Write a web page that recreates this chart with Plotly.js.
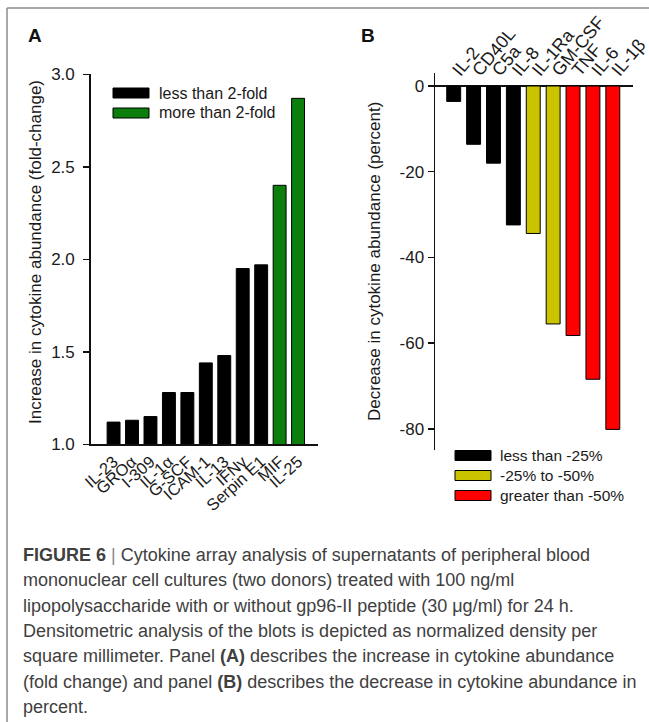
<!DOCTYPE html>
<html>
<head>
<meta charset="utf-8">
<script src="https://cdn.plot.ly/plotly-3.0.1.min.js"></script>
<style>html,body{margin:0;padding:0;background:#fff;}#chart{width:649px;height:722px;}</style>
</head>
<body>
<div id="chart"></div>
<script>
// Panel A: increase in cytokine abundance (fold-change)
const categoriesA = ["IL-23", "GROα", "I-309", "IL-1α", "G-SCF", "ICAM-1", "IL-13", "IFNγ", "Serpin E1", "MIF", "IL-25"];
const valuesA = [1.12, 1.13, 1.15, 1.28, 1.28, 1.44, 1.48, 1.95, 1.97, 2.40, 2.87];
const groupA = [0, 0, 0, 0, 0, 0, 0, 0, 0, 1, 1];
const legendA = ["less than 2-fold", "more than 2-fold"];
const ticksA = [1.0, 1.5, 2.0, 2.5, 3.0];

// Panel B: decrease in cytokine abundance (percent)
const categoriesB = ["IL-2", "CD40L", "C5a", "IL-8", "IL-1Ra", "GM-CSF", "TNF", "IL-6", "IL-1β"];
const valuesB = [-3.6, -13.6, -18.0, -32.4, -34.4, -55.5, -58.2, -68.4, -80.1];
const groupB = [0, 0, 0, 0, 1, 1, 2, 2, 2];
const legendB = ["less than -25%", "-25% to -50%", "greater than -50%"];
const ticksB = [0, -20, -40, -60, -80];

const captionLines = [
  "<b>FIGURE 6</b> <span style=\"color:#888\">|</span> Cytokine array analysis of supernatants of peripheral blood",
  "mononuclear cell cultures (two donors) treated with 100 ng/ml",
  "lipopolysaccharide with or without gp96-II peptide (30 μg/ml) for 24 h.",
  "Densitometric analysis of the blots is depicted as normalized density per",
  "square millimeter. Panel <b>(A)</b> describes the increase in cytokine abundance",
  "(fold change) and panel <b>(B)</b> describes the decrease in cytokine abundance in",
  "percent."
];

// styles
const colorsA = ["#000000", "#0b7e0b"];
const colorsB = ["#000000", "#c9c300", "#ff0000"];
const W = 649, H = 722;
const px = x => x / W;
const py = y => 1 - y / H;
const FONT = "Arial, 'Liberation Sans', sans-serif";
const TXT = "#1a1a1a";

const traces = [
  {
    type: "bar", x: categoriesA, y: valuesA, xaxis: "x", yaxis: "y",
    marker: { color: groupA.map(g => colorsA[g]), line: { color: "#000", width: 1 } },
    hoverinfo: "x+y"
  },
  {
    type: "bar", x: categoriesB, y: valuesB, xaxis: "x2", yaxis: "y2",
    marker: { color: groupB.map(g => colorsB[g]), line: { color: "#000", width: 1 } },
    hoverinfo: "x+y"
  }
];

const shapes = [
  { type: "line", xref: "paper", yref: "paper", x0: px(7), x1: 1, y0: py(8), y1: py(8), line: { color: "#8c8c8c", width: 1.5 } },
  { type: "line", xref: "paper", yref: "paper", x0: px(7), x1: px(7), y0: py(8), y1: 0, line: { color: "#8c8c8c", width: 1.5 } }
];
const ann = (text, x, y, opts) => Object.assign({
  text: text, xref: "paper", yref: "paper", x: px(x), y: py(y),
  xanchor: "center", yanchor: "middle", showarrow: false
}, opts);

const annotations = [
  ann("<b>A</b>", 35, 36, { font: { family: FONT, size: 19, color: "#111" } }),
  ann("<b>B</b>", 368, 36, { font: { family: FONT, size: 19, color: "#111" } }),
  ann("Increase in cytokine abundance (fold-change)", 35, 252, { textangle: -90, font: { family: FONT, size: 17, color: TXT } }),
  ann("Decrease in cytokine abundance (percent)", 374, 262, { textangle: -90, font: { family: FONT, size: 17, color: TXT } })
];

// legend A
legendA.forEach((lab, i) => {
  const yc = 93 + i * 20;
  shapes.push({ type: "rect", xref: "paper", yref: "paper", x0: px(113), x1: px(149), y0: py(yc - 5), y1: py(yc + 5), fillcolor: colorsA[i], line: { color: "#000", width: 1 } });
  annotations.push(ann(lab, 157, yc, { xanchor: "left", font: { family: FONT, size: 16, color: TXT } }));
});
// legend B
legendB.forEach((lab, i) => {
  const yc = 455.5 + i * 20;
  shapes.push({ type: "rect", xref: "paper", yref: "paper", x0: px(455), x1: px(491), y0: py(yc - 5), y1: py(yc + 5), fillcolor: colorsB[i], line: { color: "#000", width: 1 } });
  annotations.push(ann(lab, 498, yc, { xanchor: "left", font: { family: FONT, size: 15.5, color: TXT } }));
});
// caption
captionLines.forEach((line, i) => {
  annotations.push(ann(line, 21, 555 + i * 25.3, { xanchor: "left", align: "left", font: { family: FONT, size: 18, color: "#404040" } }));
});

const layout = {
  width: W, height: H,
  margin: { l: 0, r: 0, t: 0, b: 0, pad: 0 },
  paper_bgcolor: "#fff", plot_bgcolor: "rgba(0,0,0,0)",
  showlegend: false,
  bargap: 0.3,
  font: { family: FONT, color: TXT },
  xaxis: {
    domain: [px(90.7), px(318)], anchor: "y", type: "category", range: [-1.24, 11.08],
    tickmode: "array", tickvals: categoriesA, ticktext: categoriesA,
    showline: true, linecolor: "#111", linewidth: 1.5, ticks: "", tickangle: -42,
    tickfont: { family: FONT, size: 16.5, color: TXT }, showgrid: false, zeroline: false, fixedrange: true
  },
  yaxis: {
    domain: [py(444.3), py(74.3)], anchor: "x", range: [1, 3],
    tickvals: ticksA, ticktext: ticksA.map(v => v.toFixed(1)),
    showline: true, linecolor: "#111", linewidth: 1.5, ticks: "outside", ticklen: 6, tickwidth: 1.5, tickcolor: "#111",
    ticklabelstandoff: 5,
    tickfont: { family: FONT, size: 17, color: TXT }, showgrid: false, zeroline: false, fixedrange: true
  },
  xaxis2: {
    domain: [px(435), px(632.7)], anchor: "free", position: py(84), side: "top", type: "category", range: [-0.94, 9.0],
    tickmode: "array", tickvals: categoriesB, ticktext: categoriesB,
    showline: false, ticks: "", tickangle: -50,
    tickfont: { family: FONT, size: 18, color: TXT }, showgrid: false, zeroline: false, fixedrange: true
  },
  yaxis2: {
    domain: [py(450), py(73)], anchor: "x2", range: [-84.9, 3.03],
    tickvals: ticksB, ticktext: ticksB.map(v => String(v)),
    showline: true, linecolor: "#111", linewidth: 1.5, ticks: "outside", ticklen: 6, tickwidth: 1.5, tickcolor: "#111",
    zeroline: true, zerolinecolor: "#111", zerolinewidth: 1.5,
    tickfont: { family: FONT, size: 17, color: TXT }, showgrid: false, fixedrange: true
  },
  shapes: shapes,
  annotations: annotations
};

Plotly.newPlot("chart", traces, layout, { displayModeBar: false, staticPlot: true });
</script>
</body>
</html>
